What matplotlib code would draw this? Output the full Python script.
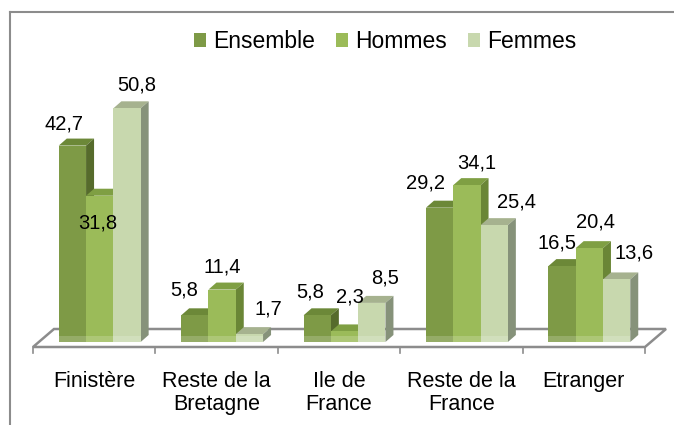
import numpy as np
import matplotlib
matplotlib.use('Agg')
import matplotlib.pyplot as plt
from matplotlib.patches import Polygon, Rectangle
from matplotlib.lines import Line2D

plt.rcParams['font.family'] = ['Liberation Sans', 'DejaVu Sans']

# data
categories = ['Finistère', 'Reste de la\nBretagne', 'Ile de\nFrance', 'Reste de la\nFrance', 'Etranger']
series = ['Ensemble', 'Hommes', 'Femmes']
ensemble = [42.7, 5.8, 5.8, 29.2, 16.5]
hommes = [31.8, 11.4, 2.3, 34.1, 20.4]
femmes = [50.8, 1.7, 8.5, 25.4, 13.6]

# colours: front, top, side
front_cols = ['#7e9a46', '#9bbb59', '#c8d8ae']
top_cols = ['#6c8838', '#7f9f43', '#a6b28f']
side_cols = ['#566b2c', '#6a8636', '#86927a']

# label offsets (px) relative to the top-front centre of each bar
lab_off = [
    [(-8, 22), (-11, 25), (-7, 23), (-14, 25), (-5, 23)],
    [(-2, -27), (0, 23), (5, 34), (10, 22), (6, 26)],
    [(10, 23), (19, 25), (13, 25), (22, 23), (17, 26)],
]

W, H = 674, 425
fig = plt.figure(figsize=(W / 100, H / 100), dpi=100)
ax = fig.add_axes([33 / W, (H - 342) / H, 612 / W, 276 / H])
ax.set_xlim(-0.5, 4.5)
ax.set_ylim(0, 60)
ax.axis('off')

px_x = 612 / 5.0   # px per category
px_y = 276 / 60.0  # px per unit
ddx = 8 / px_x
ddy = 7 / px_y

# floor
fy0 = -5 / px_y
fdx = 21 / px_x
fdy = 18 / px_y
floor = Polygon([(-0.5, fy0), (4.5, fy0), (4.5 + fdx, fy0 + fdy), (-0.5 + fdx, fy0 + fdy)],
                closed=True, facecolor='white', edgecolor='#8c8c8c', lw=1.8,
                clip_on=False, zorder=1)
ax.add_patch(floor)
for b in np.arange(-0.5, 5.0, 1.0):
    ax.plot([b, b], [fy0, fy0 - 6 / px_y], color='#8c8c8c', lw=1.2, clip_on=False, zorder=1)

x = np.arange(len(categories))
w = 0.223
vals = [ensemble, hommes, femmes]
for j, v in enumerate(vals):
    bars = ax.bar(x + (j - 1) * w + 0.045, v, w, color=front_cols[j], label=series[j],
                  zorder=3 + 2 * j, clip_on=False, linewidth=0)
    for k, r in enumerate(bars):
        x0, x1, h = r.get_x(), r.get_x() + r.get_width(), r.get_height()
        ax.add_patch(Polygon([(x0, h), (x1, h), (x1 + ddx, h + ddy), (x0 + ddx, h + ddy)],
                             facecolor=top_cols[j], lw=0, zorder=2 + 2 * j, clip_on=False))
        ax.add_patch(Polygon([(x1, 0), (x1 + ddx, ddy), (x1 + ddx, h + ddy), (x1, h)],
                             facecolor=side_cols[j], lw=0, zorder=2 + 2 * j, clip_on=False))
        # light band at the bottom
        ax.add_patch(Rectangle((x0, 0), x1 - x0, 6 / px_y, facecolor='white', alpha=0.18,
                               lw=0, zorder=3 + 2 * j, clip_on=False))
        ox, oy = lab_off[j][k]
        ax.annotate(f'{v[k]:.1f}'.replace('.', ','), (r.get_x() + w / 2, h),
                    xytext=(ox * 0.72, oy * 0.72), textcoords='offset points',
                    ha='center', va='center', fontsize=14.5, color='black', zorder=10)

for i, c in enumerate(categories):
    ax.text(i, -29 / px_y, c, ha='center', va='top', fontsize=15.5, linespacing=1.1)

handles = [Rectangle((0, 0), 1, 1, facecolor=front_cols[j]) for j in range(3)]
fig.legend(handles, series, loc='center', bbox_to_anchor=(385 / W, 1 - 42 / H), ncol=3,
           frameon=False, fontsize=16.5, handlelength=0.55, handleheight=0.55,
           handletextpad=0.3, columnspacing=0.9, borderpad=0)

# outer frame (top and left visible)
fig.add_artist(Line2D([10 / W, 10 / W], [0, 1 - 12 / H], color='#8c8c8c', lw=1.5))
fig.add_artist(Line2D([10 / W, 1], [1 - 12 / H, 1 - 12 / H], color='#8c8c8c', lw=1.5))

fig.savefig('out.png', dpi=100)
